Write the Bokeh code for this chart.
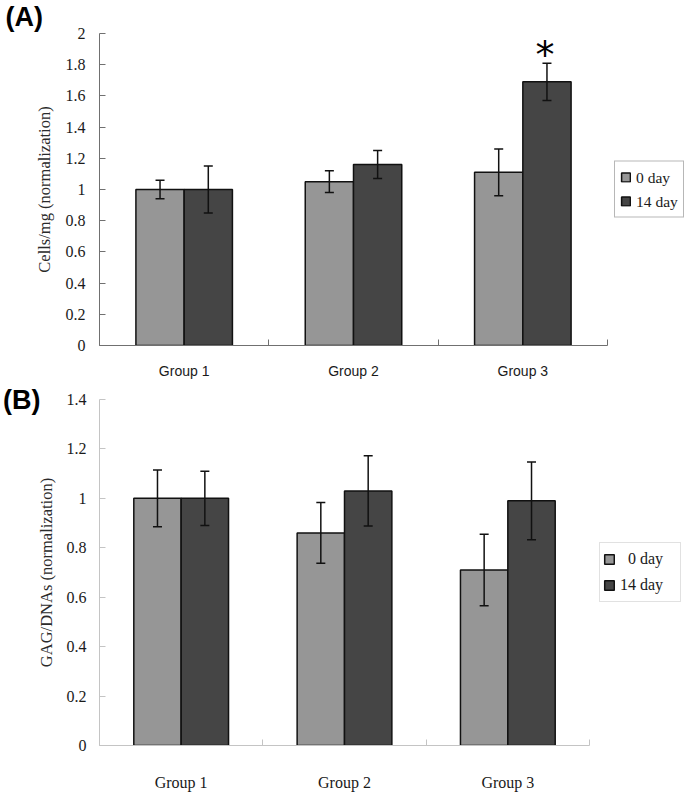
from bokeh.plotting import figure
from bokeh.models import (ColumnDataSource, Range1d, FixedTicker, NumeralTickFormatter,
                          Whisker, TeeHead, Legend, LegendItem, LinearAxis, Title)
from bokeh.layouts import column
from bokeh.embed import file_html
from bokeh.resources import INLINE
from bokeh.core.properties import value

# ---------------- data ----------------
groups = ["Group 1", "Group 2", "Group 3"]
series = ["0 day", "14 day"]

cells_0day = [1.00, 1.05, 1.11]
cells_0day_err = [0.06, 0.07, 0.15]
cells_14day = [1.00, 1.16, 1.69]
cells_14day_err = [0.15, 0.09, 0.12]
cells_sig = ["", "", "*"]          # marker over 14 day bars

gag_0day = [1.00, 0.86, 0.71]
gag_0day_err = [0.115, 0.123, 0.145]
gag_14day = [1.00, 1.03, 0.99]
gag_14day_err = [0.11, 0.142, 0.157]

y_ticks_a = [0, 0.2, 0.4, 0.6, 0.8, 1, 1.2, 1.4, 1.6, 1.8, 2]
y_ticks_b = [0, 0.2, 0.4, 0.6, 0.8, 1, 1.2, 1.4]

LIGHT = "#969696"
DARK = "#454545"
SERIF = "Liberation Serif"
SANS = "Liberation Sans"


def make_panel(v0, e0, v1, e1, ymax, yticks, ytitle, cfg):
    n = len(groups)
    centers = [i + 0.5 for i in range(n)]
    bounds = [float(i) for i in range(n + 1)]
    bw = cfg["bw"]
    p = figure(frame_width=cfg["fw"], frame_height=cfg["fh"],
               min_border_left=cfg["bl"], min_border_right=cfg["br"],
               min_border_top=cfg["bt"], min_border_bottom=cfg["bb"],
               x_range=Range1d(0, n), y_range=Range1d(0, ymax),
               output_backend="svg", toolbar_location=None, tools="")
    p.outline_line_color = None
    p.grid.visible = False
    p.background_fill_color = "white"
    p.border_fill_color = "white"

    s0 = ColumnDataSource(dict(x=[c - bw / 2 for c in centers], top=v0,
                               up=[a + b for a, b in zip(v0, e0)],
                               lo=[a - b for a, b in zip(v0, e0)]))
    s1 = ColumnDataSource(dict(x=[c + bw / 2 for c in centers], top=v1,
                               up=[a + b for a, b in zip(v1, e1)],
                               lo=[a - b for a, b in zip(v1, e1)]))
    r0 = p.vbar(x="x", top="top", bottom=0, width=bw, source=s0,
                fill_color=LIGHT, line_color="#111111", line_width=1.5)
    r1 = p.vbar(x="x", top="top", bottom=0, width=bw, source=s1,
                fill_color=DARK, line_color="#111111", line_width=1.5)
    for s in (s0, s1):
        w = Whisker(base="x", upper="up", lower="lo", source=s, level="overlay",
                    line_color="#111111", line_width=1.5,
                    upper_head=TeeHead(size=cfg["cap"], line_color="#111111", line_width=1.5),
                    lower_head=TeeHead(size=cfg["cap"], line_color="#111111", line_width=1.5))
        p.add_layout(w)

    # y axis
    ya = p.yaxis[0]
    ya.ticker = FixedTicker(ticks=yticks)
    ya.formatter = NumeralTickFormatter(format="0.[0]")
    ya.axis_line_color = cfg["axis_color"]
    ya.major_tick_line_color = cfg["axis_color"]
    ya.major_tick_in = 6
    ya.major_tick_out = 0
    ya.minor_tick_line_color = None
    ya.major_label_text_font = SERIF
    ya.major_label_text_font_size = cfg["ytick_fs"]
    ya.major_label_text_color = "#1a1a1a"
    ya.major_label_standoff = cfg["ystand"]
    ya.axis_label = ytitle
    ya.axis_label_text_font = SERIF
    ya.axis_label_text_font_style = "normal"
    ya.axis_label_text_font_size = cfg["ytitle_fs"]
    ya.axis_label_text_color = "#2a2a2a"
    ya.axis_label_standoff = cfg["ttl_stand"]

    # x axis: labels at group centres, small ticks at group boundaries
    xa = p.xaxis[0]
    xa.ticker = FixedTicker(ticks=centers, minor_ticks=bounds)
    xa.major_label_overrides = {c: g for c, g in zip(centers, groups)}
    xa.axis_line_color = cfg["axis_color"]
    xa.major_tick_line_color = None
    xa.minor_tick_line_color = cfg["axis_color"]
    xa.minor_tick_in = 6
    xa.minor_tick_out = 0
    xa.major_label_text_font = cfg["xfont"]
    xa.major_label_text_font_size = cfg["xtick_fs"]
    xa.major_label_text_color = "#1a1a1a"
    xa.major_label_standoff = cfg["xstand"]

    legend = Legend(items=[LegendItem(label=cfg["labels"][0], renderers=[r0]),
                           LegendItem(label=cfg["labels"][1], renderers=[r1])],
                    location="center_left", orientation="vertical",
                    glyph_width=cfg["gw"], glyph_height=cfg["gw"],
                    label_standoff=5, label_width=cfg["lw"], label_height=cfg["lh"],
                    padding=cfg["pad"], spacing=cfg["sp"], margin=cfg["lm"],
                    label_text_font=SERIF, label_text_font_size=cfg["leg_fs"],
                    label_text_color="#1a1a1a",
                    border_line_color=cfg["leg_border"], border_line_width=1,
                    background_fill_color="white", background_fill_alpha=1)
    p.add_layout(legend, "right")
    return p, s1


cfg_a = dict(fw=508, fh=312, bl=97, br=83, bt=33, bb=37, bw=0.285, cap=9,
             axis_color="#707070", ytick_fs="16px", ystand=14, ytitle_fs="16.5px", ttl_stand=9,
             xfont=SANS, xtick_fs="14px", xstand=11,
             labels=["0 day", "14 day"], gw=11, lw=42, lh=21, lm=7,
             pad=5, sp=3, leg_fs="15.5px", leg_border="#707070")
pa, s1a = make_panel(cells_0day, cells_0day_err, cells_14day, cells_14day_err,
                     2, y_ticks_a, "Cells/mg (normalization)", cfg_a)

# panel tag "(A)" as a left-aligned title in the top margin
pa.add_layout(Title(text="(A)", align="left", offset=-94, standoff=0,
                    vertical_align="top", text_font=SANS, text_font_style="bold",
                    text_font_size="27px", text_color="black"), "above")

# significance marker above the 14 day bars of panel A
sig_src = ColumnDataSource(dict(x=s1a.data["x"], y=s1a.data["up"], t=cells_sig))
pa.text(x="x", y="y", text="t", source=sig_src, text_font=value("DejaVu Sans"),
        text_font_size="38px", text_align="center", text_baseline="middle",
        y_offset=-8, x_offset=-2, text_color="black")

cfg_b = dict(fw=490, fh=346, bl=96, br=102, bt=17, bb=44, bw=0.29, cap=9,
             axis_color="#c4c4c4", ytick_fs="16px", ystand=13, ytitle_fs="16.5px", ttl_stand=8,
             xfont=SERIF, xtick_fs="16px", xstand=22,
             labels=["\u20070 day", "14 day"], gw=12, lw=57, lh=26, lm=10,
             pad=3, sp=0, leg_fs="16px", leg_border="#c4c4c4")
pb, _ = make_panel(gag_0day, gag_0day_err, gag_14day, gag_14day_err,
                   1.4, y_ticks_b, "GAG/DNAs (normalization)", cfg_b)

# panel tag "(B)": an outer left axis with a single label level with the frame top
pb.extra_y_ranges = {"tag": Range1d(0, 1)}
tag_axis = LinearAxis(y_range_name="tag", ticker=FixedTicker(ticks=[1]),
                      major_label_overrides={1: "(B)"},
                      axis_line_color=None, major_tick_line_color=None,
                      minor_tick_line_color=None, major_tick_in=0, major_tick_out=0,
                      major_label_standoff=-7, major_label_text_font=SANS,
                      major_label_text_font_style="bold", major_label_text_font_size="27px",
                      major_label_text_color="black")
pb.add_layout(tag_axis, "left")

layout = column(pa, pb, spacing=0)
open("out.html", "w").write(file_html(layout, INLINE))
